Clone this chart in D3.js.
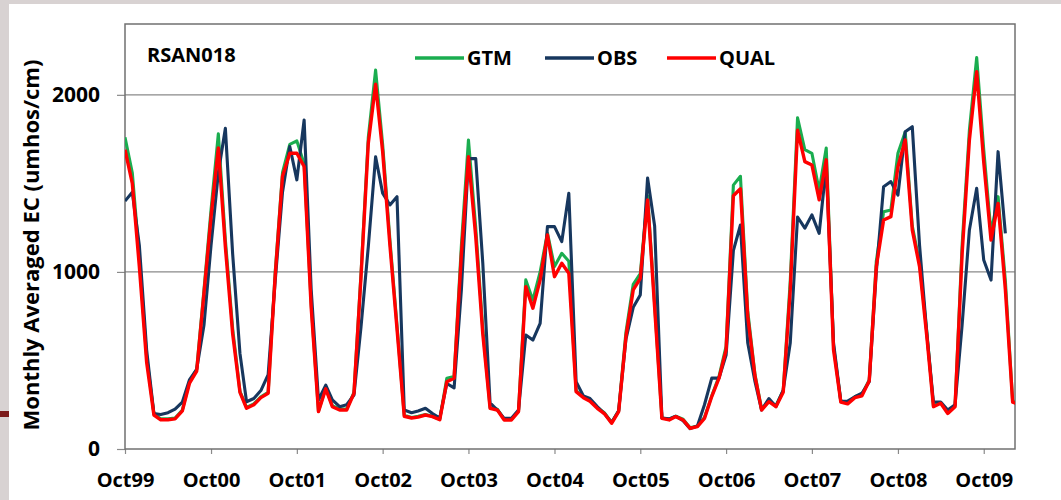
<!DOCTYPE html>
<html>
<head>
<meta charset="utf-8">
<script src="https://cdn.jsdelivr.net/npm/d3@7"></script>
<style>
  body { margin: 0; background: #ffffff; }
  text { font-family: "Open Sans", "DejaVu Sans", sans-serif; font-weight: bold; fill: #000; }
</style>
</head>
<body>
<div id="chart"></div>
<script>
// monthly values, Oct99 .. Mar10
let gtm = [1760,1560,1080,520,200,170,170,175,220,380,450,900,
  1350,1780,1180,680,325,235,255,295,320,1000,1560,1720,
  1740,1610,820,215,345,245,225,225,320,990,1760,2140,
  1720,1180,700,190,178,185,195,185,168,400,410,1150,
  1745,1250,680,235,225,168,168,215,955,840,1000,1220,
  1030,1105,1060,330,295,275,235,205,150,215,660,930,
  990,1430,820,175,168,185,168,120,130,178,300,410,
  580,1490,1540,780,420,225,270,245,330,950,1870,1690,
  1670,1460,1700,580,270,260,295,310,390,1060,1340,1350,
  1670,1790,1260,1050,660,245,262,205,245,1150,1800,2210,
  1690,1220,1425,950,270,255];

let obs = [1400,1450,1150,560,200,195,205,225,265,390,450,700,
  1150,1560,1811,1100,540,267,285,330,420,950,1450,1708,
  1520,1858,900,277,361,277,239,250,305,690,1143,1650,
  1445,1378,1425,220,205,215,230,200,175,370,345,900,
  1640,1640,1050,260,220,173,173,220,644,615,710,1256,
  1256,1171,1444,380,300,285,240,200,150,215,620,800,
  870,1530,1260,175,170,185,160,115,130,250,400,400,
  530,1120,1265,600,380,220,285,240,333,600,1310,1247,
  1322,1218,1600,600,270,270,295,315,380,1000,1481,1510,
  1434,1792,1820,1150,650,265,265,220,250,700,1237,1472,
  1067,954,1679,1218,null,null];

let qual = [1690,1500,1030,490,192,165,165,170,215,370,440,880,
  1310,1700,1140,650,320,230,250,290,315,980,1540,1670,
  1670,1595,800,211,340,239,220,220,314,973,1727,2060,
  1680,1150,680,185,175,180,192,183,165,380,400,1100,
  1650,1200,650,230,220,164,164,211,917,795,955,1209,
  973,1049,992,324,290,270,230,200,145,211,635,898,
  964,1407,800,173,164,183,164,117,126,173,296,400,
  560,1430,1470,750,410,220,267,239,320,900,1800,1623,
  1604,1407,1633,560,265,255,290,300,385,1030,1293,1312,
  1594,1745,1237,1030,634,239,258,201,239,1100,1745,2131,
  1620,1180,1387,900,265,250];

let tickLabels = ["Oct99","Oct00","Oct01","Oct02","Oct03","Oct04","Oct05","Oct06","Oct07","Oct08","Oct09"];
let yTicks = [0, 1000, 2000];
let seriesNames = ["GTM", "OBS", "QUAL"];
let seriesColors = ["#1aad4f", "#17375e", "#ff0000"];

let months = d3.timeMonth.range(new Date(1999, 9, 1), new Date(2010, 3, 1));
let parseTick = d3.timeParse("%b%y");

let svgWidth = 1061;
let svgHeight = 500;
let plot = { left: 125, right: 1015, top: 24, bottom: 449 };

let svg = d3.select("#chart").append("svg")
    .attr("width", svgWidth)
    .attr("height", svgHeight);

// slide frame
svg.append("rect").attr("x", 0).attr("y", 0).attr("width", svgWidth).attr("height", 4).attr("fill", "#d8d2d2");
svg.append("rect").attr("x", 0).attr("y", 0).attr("width", 9).attr("height", svgHeight).attr("fill", "#d8d2d2");
svg.append("rect").attr("x", 0).attr("y", 411).attr("width", 9).attr("height", 6).attr("fill", "#7b1a1a");

let x = d3.scaleTime()
    .domain([new Date(1999, 9, 1), new Date(2010, 1, 11)])
    .range([plot.left, plot.right]);

let y = d3.scaleLinear()
    .domain([0, 2400])
    .range([plot.bottom, plot.top]);

// gridlines
svg.append("g").selectAll("line")
    .data(yTicks.filter(d => d > 0))
    .enter()
    .append("line")
    .attr("x1", plot.left)
    .attr("x2", plot.right)
    .attr("y1", d => y(d))
    .attr("y2", d => y(d))
    .attr("stroke", "#8a8a8a")
    .attr("stroke-width", 1.2);

// axes
let xAxis = d3.axisBottom(x)
    .tickValues(tickLabels.map(parseTick))
    .tickFormat(d3.timeFormat("%b%y"))
    .tickSize(5)
    .tickPadding(19);

let yAxis = d3.axisLeft(y)
    .tickValues(yTicks)
    .tickFormat(d3.format("d"))
    .tickSize(8)
    .tickPadding(17);

let xg = svg.append("g")
    .attr("transform", `translate(0, ${plot.bottom})`)
    .call(xAxis);

let yg = svg.append("g")
    .attr("transform", `translate(${plot.left}, 0)`)
    .call(yAxis);

[xg, yg].forEach(g => {
    g.select(".domain").remove();
    g.selectAll("line").attr("stroke", "#8a8a8a").attr("stroke-width", 1.2);
    g.selectAll("text").attr("font-size", "20px").attr("fill", "#000");
});
yg.selectAll("text").attr("font-size", "21px");

// plot border
svg.append("rect")
    .attr("x", plot.left)
    .attr("y", plot.top)
    .attr("width", plot.right - plot.left)
    .attr("height", plot.bottom - plot.top)
    .attr("fill", "none")
    .attr("stroke", "#707070")
    .attr("stroke-width", 1.5);

svg.append("clipPath").attr("id", "clip")
    .append("rect")
    .attr("x", plot.left)
    .attr("y", plot.top)
    .attr("width", plot.right - plot.left)
    .attr("height", plot.bottom - plot.top);

let line = d3.line()
    .defined(d => d.v != null)
    .x(d => x(d.date))
    .y(d => y(d.v));

let allSeries = [gtm, obs, qual];
let linesGroup = svg.append("g").attr("clip-path", "url(#clip)");

allSeries.forEach((vals, k) => {
    linesGroup.append("path")
        .datum(vals.map((v, i) => ({ date: months[i], v: v })))
        .attr("d", line)
        .attr("fill", "none")
        .attr("stroke", seriesColors[k])
        .attr("stroke-width", k == 2 ? 3.4 : 3.1)
        .attr("stroke-linejoin", "round");
});

// station label
svg.append("text")
    .attr("x", 147)
    .attr("y", 62)
    .attr("font-size", "20px")
    .text("RSAN018");

// legend
let legendX = [415, 545, 667];
let legend = svg.append("g").selectAll("g")
    .data(seriesNames)
    .enter()
    .append("g")
    .attr("transform", (d, i) => `translate(${legendX[i]}, 58)`);

legend.append("line")
    .attr("x1", 0)
    .attr("x2", 49)
    .attr("stroke", (d, i) => seriesColors[i])
    .attr("stroke-width", 3.4);

legend.append("text")
    .attr("x", 52)
    .attr("y", 7)
    .attr("font-size", "20px")
    .text(d => d);

// axis title
svg.append("text")
    .attr("transform", "translate(39, 245) rotate(-90)")
    .attr("text-anchor", "middle")
    .attr("font-size", "22px")
    .text("Monthly Averaged EC (umhos/cm)");
</script>
</body>
</html>
